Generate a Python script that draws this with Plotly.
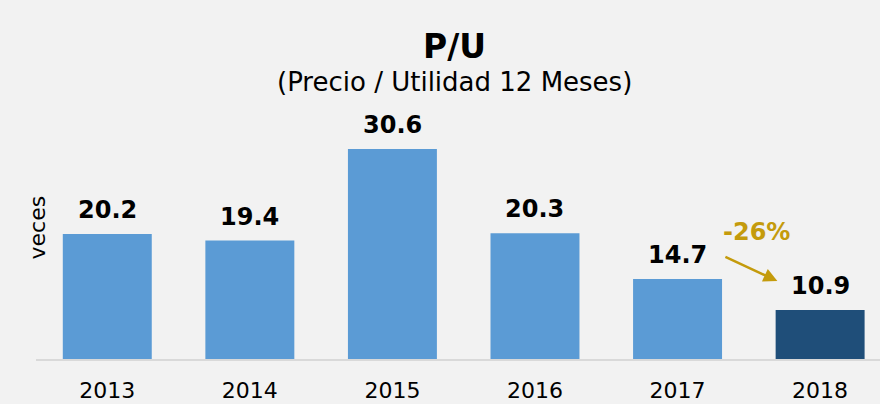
import plotly.graph_objects as go

years = ["2013", "2014", "2015", "2016", "2017", "2018"]
pe_ratio = [20.2, 19.4, 30.6, 20.3, 14.7, 10.9]
bar_colors = ["#5B9BD5", "#5B9BD5", "#5B9BD5", "#5B9BD5", "#5B9BD5", "#1F4E79"]
change_label = "-26%"

FONT = "DejaVu Sans"
GOLD = "#C49B0C"

L, R, T, B = 36, 0, 80, 45
W, H = 880, 404
pw, ph = W - L - R, H - T - B


def px(x, y):
    # pixel position -> paper coords
    return (x - L) / pw, (H - B - y) / ph


fig = go.Figure()

fig.add_trace(
    go.Bar(
        x=years,
        y=pe_ratio,
        marker=dict(color=bar_colors, line=dict(width=0)),
        width=0.624,
        hoverinfo="skip",
    )
)

# value labels above bars
for i, val in enumerate(pe_ratio):
    fig.add_annotation(
        x=i, y=val, xref="x", yref="y", text=f"<b>{val:.1f}</b>",
        showarrow=False, yanchor="bottom", yshift=8,
        font=dict(family=FONT, size=24, color="#000000"),
    )

# change arrow 2017 -> 2018
fig.add_annotation(
    x=4.70, y=14.45, ax=4.325, ay=17.5,
    xref="x", yref="y", axref="x", ayref="y",
    text="", showarrow=True, arrowhead=2, arrowsize=1.1, arrowwidth=2.5,
    arrowcolor=GOLD,
)
fig.add_annotation(
    x=4.556, y=20.4, xref="x", yref="y", text=f"<b>{change_label}</b>",
    showarrow=False, font=dict(family=FONT, size=24, color=GOLD),
)

# titles
tx, ty = px(454, 25)
fig.add_annotation(
    x=tx, y=ty, xref="paper", yref="paper",
    text="<b>P/U</b>", showarrow=False,
    font=dict(family=FONT, size=33, color="#000000"),
)
tx, ty = px(454, 65)
fig.add_annotation(
    x=tx, y=ty, xref="paper", yref="paper",
    text="(Precio / Utilidad 12 Meses)", showarrow=False,
    font=dict(family=FONT, size=26, color="#000000"),
)
tx, ty = px(22, 228)
fig.add_annotation(
    x=tx, y=ty, xref="paper", yref="paper",
    text="veces", showarrow=False, textangle=-90,
    font=dict(family=FONT, size=22, color="#000000"),
)

fig.update_layout(
    width=W, height=H,
    margin=dict(l=L, r=R, t=T, b=B),
    paper_bgcolor="#F2F2F2",
    plot_bgcolor="#F2F2F2",
    showlegend=False,
    font=dict(family=FONT, color="#000000"),
    xaxis=dict(
        type="category",
        range=[-0.5, 5.42],
        automargin=False,
        showgrid=False, zeroline=False,
        showline=True, linecolor="#D9D9D9", linewidth=2,
        ticks="", tickfont=dict(size=22, color="#000000"),
        ticklabelstandoff=11,
    ),
    yaxis=dict(
        range=[4.9, 39.05],
        automargin=False,
        showgrid=False, zeroline=False, showline=False,
        showticklabels=False,
    ),
)

fig.write_html(
    "out.html",
    config={"displayModeBar": False},
    post_script="document.body.style.margin='0';",
)
